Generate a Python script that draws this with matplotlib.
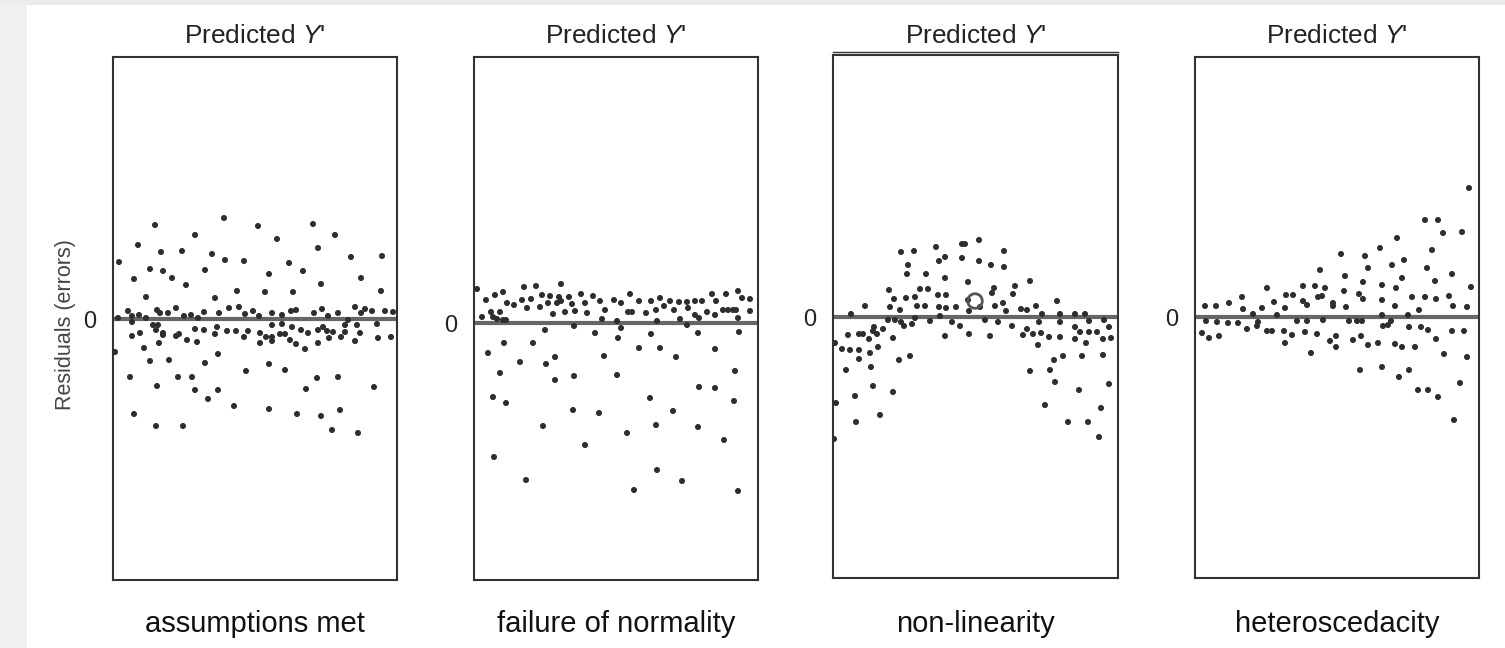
import numpy as np
import matplotlib
matplotlib.use("Agg")
import matplotlib.pyplot as plt
from matplotlib.patches import Rectangle

plt.rcParams['font.family'] = ['Liberation Sans', 'DejaVu Sans']
plt.rcParams['mathtext.fontset'] = 'custom'
plt.rcParams['mathtext.it'] = 'Liberation Sans:italic'
plt.rcParams['mathtext.rm'] = 'Liberation Sans'

# Residual plots: (predicted Y', residual) pairs, one array per panel
assumptions_met = np.array([
    (111, 101), (42, 94), (82, 84), (25, 74), (48, 67), (69, 68), (99, 65), (112, 59), (131, 58),
    (6, 57), (37, 50), (50, 48), (92, 49), (59, 41), (21, 40), (73, 34), (124, 28), (33, 22),
    (102, 21), (15, 8), (44, 9), (47, 6), (55, 6), (63, 11), (71, 3), (78, 4), (91, 7), (106, 6),
    (116, 11), (126, 12), (132, 5), (140, 8), (5, 1), (19, 3), (26, 4), (33, 1), (40, -6), (45, -6),
    (43, -11), (50, -14), (50, -16), (19, -17), (27, -14), (63, -17), (66, -15), (74, -21), (82, -10),
    (91, -11), (84, -23), (102, -15), (104, -8), (114, -12), (123, -12), (131, -18), (135, -12),
    (2, -33), (31, -29), (46, -24), (37, -42), (56, -41), (92, -44), (105, -35), (133, -52),
    (17, -58), (44, -67), (65, -58), (79, -58), (82, -71), (105, -71), (95, -80), (121, -87),
    (21, -95), (43, -107), (70, -107), (85, 1), (19, -3),
    (145, 93), (200, 95), (164, 80), (222, 84), (205, 71), (238, 62), (269, 63), (176, 56),
    (156, 45), (190, 48), (248, 41), (208, 35), (152, 27), (180, 27), (268, 28), (159, 6), (169, 4),
    (178, 8), (183, 9), (201, 6), (209, 10), (215, 3), (225, 6), (242, 12), (252, 10), (259, 8),
    (248, 6), (272, 8), (280, 7), (146, 3), (159, -6), (169, -5), (179, -8), (188, -11), (195, -14),
    (205, -11), (210, -8), (214, -12), (220, -13), (232, -6), (235, -1), (232, -13), (228, -18),
    (244, -6), (247, -14), (264, -5), (147, -14), (153, -18), (159, -18), (159, -22), (147, -24),
    (167, -15), (172, -15), (177, -21), (183, -25), (192, -30), (205, -24), (216, -19), (242, -22),
    (265, -19), (278, -18), (156, -45), (172, -51), (204, -59), (225, -58), (261, -68), (193, -70),
    (156, -90), (184, -95), (208, -97), (227, -91), (219, -111), (245, -114),
])

failure_of_normality = np.array([
    (3, 34), (12, 23), (21, 28), (29, 31), (33, 20), (40, 18), (50, 36), (62, 37), (48, 23),
    (57, 24), (68, 28), (76, 27), (87, 39), (85, 26), (83, 20), (87, 22), (95, 26), (98, 19),
    (107, 29), (111, 20), (119, 27), (126, 22), (53, 15), (66, 16), (74, 20), (79, 9), (91, 11),
    (101, 12), (113, 10), (131, 13), (8, 6), (17, 11), (26, 11), (19, 6), (23, 4), (29, 3), (32, 3),
    (128, 4), (71, -7), (100, -3), (121, -10), (30, -20), (59, -20), (14, -30), (81, -34),
    (46, -39), (72, -41), (130, -33), (26, -50), (81, -57), (100, -53), (19, -74), (32, -80),
    (99, -87), (125, -90), (69, -103), (111, -122), (20, -134), (52, -157),
    (140, 23), (147, 20), (156, 29), (165, 22), (177, 22), (186, 25), (190, 17), (196, 22),
    (205, 21), (213, 21), (221, 22), (228, 22), (238, 29), (242, 22), (252, 29), (264, 32),
    (268, 25), (276, 24), (154, 11), (158, 11), (172, 10), (182, 13), (200, 13), (214, 15),
    (221, 8), (225, 5), (233, 11), (241, 8), (249, 13), (254, 13), (259, 13), (262, 13), (276, 12),
    (264, 5), (143, 2), (183, 2), (206, 4), (213, -2), (147, -5), (144, -15), (177, -11),
    (224, -10), (265, -9), (165, -25), (186, -25), (202, -34), (241, -26), (143, -52), (261, -48),
    (225, -64), (241, -65), (176, -75), (260, -78), (199, -88), (182, -102), (224, -104),
    (153, -110), (250, -117), (183, -147), (208, -158), (160, -167), (264, -168),
])

non_linearity = np.array([
    (68, 65), (81, 66), (103, 70), (129, 73), (132, 73), (106, 56), (112, 60), (129, 59), (75, 52),
    (74, 43), (93, 43), (112, 39), (135, 35), (56, 27), (87, 28), (95, 28), (61, 18), (73, 19),
    (82, 20), (105, 22), (113, 22), (135, 17), (32, 11), (57, 10), (67, 7), (84, 11), (92, 11),
    (106, 10), (113, 9), (123, 10), (18, 3), (136, 6), (55, -3), (62, -3), (68, -5), (71, -9),
    (79, -7), (82, -1), (97, -4), (107, 1), (119, -5), (127, -9), (50, -12), (41, -10), (44, -17),
    (36, -22), (40, -14), (26, -17), (30, -17), (15, -18), (2, -26), (60, -21), (112, -19),
    (136, -17), (9, -32), (17, -33), (26, -33), (45, -30), (26, -42), (37, -36), (66, -43),
    (77, -39), (13, -53), (38, -50), (40, -69), (60, -75), (22, -79), (3, -86), (47, -98),
    (23, -105), (1, -122),
    (146, 77), (171, 66), (146, 56), (158, 52), (171, 50), (197, 36), (182, 31), (161, 29),
    (159, 24), (180, 23), (224, 16), (170, 14), (162, 11), (147, 10), (203, 11), (188, 8),
    (194, 7), (173, 6), (209, 3), (227, 3), (242, 3), (252, 3), (152, -3), (165, -5), (206, -5),
    (227, -5), (256, -4), (271, -3), (179, -9), (194, -12), (190, -18), (200, -17), (208, -16),
    (205, -28), (216, -20), (227, -20), (242, -10), (242, -22), (247, -15), (256, -15), (264, -15),
    (276, -10), (270, -22), (278, -21), (253, -26), (157, -19), (230, -39), (221, -43), (249, -39),
    (270, -38), (197, -54), (217, -53), (222, -65), (246, -73), (276, -67), (212, -88), (268, -91),
    (235, -105), (255, -105), (266, -120),
])
non_linearity_ring = np.array([(142, 16)])

heteroscedacity = np.array([
    (125, 47), (72, 29), (108, 31), (120, 31), (130, 29), (47, 20), (91, 22), (98, 22), (123, 20),
    (127, 21), (108, 16), (112, 12), (79, 15), (10, 11), (21, 11), (34, 14), (48, 8), (67, 9),
    (90, 9), (138, 14), (138, 11), (58, 3), (82, 2), (11, -4), (22, -5), (33, -6), (43, -6),
    (63, -5), (62, -9), (52, -12), (102, -4), (112, -4), (128, -3), (7, -16), (14, -21), (24, -19),
    (72, -14), (77, -14), (89, -14), (97, -18), (90, -26), (110, -15), (122, -17), (135, -24),
    (116, -36),
    (274, 129), (230, 97), (243, 97), (248, 84), (267, 85), (202, 79), (185, 69), (237, 67),
    (146, 63), (170, 61), (173, 49), (209, 57), (197, 52), (232, 49), (150, 41), (257, 43),
    (207, 39), (168, 35), (240, 36), (187, 32), (201, 29), (276, 30), (149, 26), (164, 23),
    (168, 18), (187, 17), (217, 20), (230, 20), (241, 18), (254, 21), (151, 10), (200, 11),
    (258, 11), (272, 10), (224, 7), (187, 2), (213, 2), (154, -4), (162, -4), (167, -4), (188, -9),
    (193, -8), (196, -4), (214, -10), (226, -10), (233, -13), (257, -14), (269, -14), (141, -19),
    (141, -30), (158, -23), (166, -19), (173, -28), (183, -26), (200, -27), (207, -30), (220, -30),
    (241, -22), (249, -37), (272, -40), (165, -53), (187, -50), (214, -53), (204, -60), (223, -73),
    (233, -73), (243, -80), (265, -66), (259, -103),
])

captions = ["assumptions met", "failure of normality", "non-linearity", "heteroscedacity"]
datasets = [assumptions_met, failure_of_normality, non_linearity, heteroscedacity]
top_label = "Predicted $Y$'"
y_label = "Residuals (errors)"

# Figure layout (pixel geometry)
W, H = 1505, 648
fig = plt.figure(figsize=(W / 100, H / 100), dpi=100)
fig.patch.set_facecolor("white")
fig.patches.append(Rectangle((0, 0), 27 / W, 1, transform=fig.transFigure,
                             facecolor="#f0f0f0", edgecolor="none", zorder=0))
fig.patches.append(Rectangle((0, 1 - 5 / H), 1, 5 / H, transform=fig.transFigure,
                             facecolor="#ececec", edgecolor="none", zorder=0))

# left, right, top, bottom, zero-line row
boxes = [(113, 397, 57, 580, 319),
         (474, 758, 57, 580, 323),
         (833, 1118, 55, 578, 317),
         (1195, 1479, 57, 578, 317)]

dot_color = "#2e2e2e"
frame_color = "#333333"

for i, ((l, r, t, b, z), pts, cap) in enumerate(zip(boxes, datasets, captions)):
    ax = fig.add_axes([l / W, 1 - b / H, (r - l) / W, (b - t) / H])
    ax.set_xlim(0, r - l)
    ax.set_ylim(-(b - z), z - t)
    ax.axhline(0, color="#666666", lw=3.0, zorder=2)
    ax.scatter(pts[:, 0], pts[:, 1], s=19, color=dot_color, edgecolors="none", zorder=3)
    if i == 2:
        ax.scatter(non_linearity_ring[:, 0], non_linearity_ring[:, 1], s=110,
                   facecolors="none", edgecolors="#555555", linewidths=2.0, zorder=3)
        ax.plot([0, 1], [1.006, 1.006], transform=ax.transAxes, color=frame_color,
                lw=1.0, clip_on=False)
    for sp in ax.spines.values():
        sp.set_color(frame_color)
        sp.set_linewidth(1.5)
    ax.set_xticks([])
    ax.set_yticks([0])
    ax.set_yticklabels(["0"], fontsize=17, color="#222222")
    ax.tick_params(axis="y", length=0, pad=12)

    cx = (l + r) / 2 / W
    fig.text(cx, 1 - 43 / H, top_label, ha="center", va="baseline",
             fontsize=18.9, color="#222222")
    fig.text(cx, 1 - 632 / H, cap, ha="center", va="baseline",
             fontsize=21, color="#111111")

fig.text(65 / W, 1 - 325 / H, y_label, rotation=90, ha="center", va="center",
         fontsize=15.5, color="#444444")

fig.savefig("out.png", dpi=100)
